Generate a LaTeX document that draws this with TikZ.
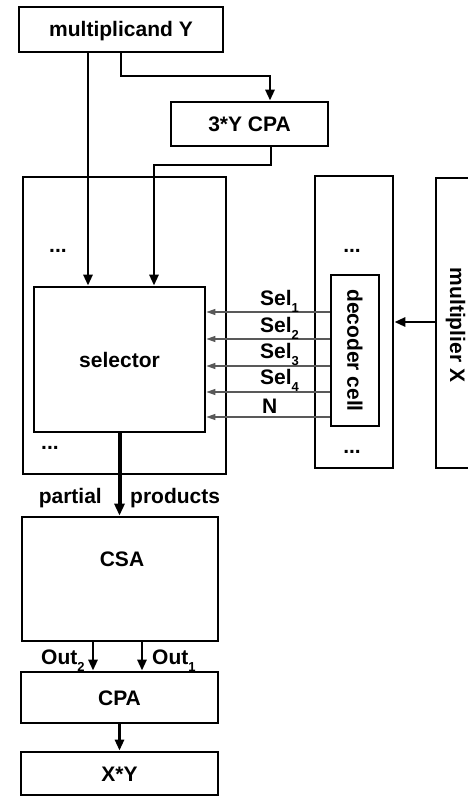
\documentclass[tikz,border=0pt]{standalone}
\usepackage{fontspec}
\setmainfont{Liberation Sans}
\usepackage{graphicx}
\usetikzlibrary{arrows.meta,calc}
\newcommand{\mysub}[1]{\raisebox{-7pt}{\fontsize{13}{13}\selectfont #1}}
\tikzset{
  boxbase/.style={draw,line width=2.8pt,inner sep=0pt,font=\bfseries\fontsize{21}{24}\selectfont},
  box/.style={boxbase,text height=15pt,text depth=0pt},
  lbl/.style={font=\bfseries\fontsize{21}{24}\selectfont,inner sep=0pt,anchor=base west},
  arr/.style={line width=2.8pt,-{Triangle[length=11pt,width=9pt]}},
  thinarr/.style={draw=black!65,line width=1.3pt,-{Triangle[length=9pt,width=6pt]}},
}
\begin{document}
\begin{tikzpicture}[x=1pt,y=-1pt]
\useasboundingbox[fill=white] (0,0) rectangle (467,797);

% boxes
\node[box,minimum width=204pt,minimum height=45pt] (multY) at (121,29.5) {multiplicand Y};
\node[box,minimum width=157pt,minimum height=44pt] (cpa3) at (249.5,124) {3*Y CPA};
\node[box,minimum width=203pt,minimum height=297pt] (selouter) at (124.5,325.5) {};
\node[box,minimum width=171pt,minimum height=145pt] (selector) at (119.5,359.5) {selector};
\node[box,minimum width=78pt,minimum height=292pt] (decouter) at (354,322) {};
\node[boxbase,minimum width=48pt,minimum height=151pt] (deccell) at (355,350.5) {\rotatebox{-90}{decoder cell}};
\node[font=\bfseries\fontsize{21}{24}\selectfont,inner sep=0pt] (multX) at (455.5,325) {\rotatebox{-90}{multiplier X}};
\draw[line width=2.8pt] (475,178) -- (436,178) -- (436,468) -- (475,468);
\node[box,minimum width=196pt,minimum height=124pt] (csa) at (120,579) {};
\node[lbl,anchor=base] (csat) at (122,566) {CSA};
\node[box,minimum width=197pt,minimum height=51pt] (cpa) at (119.5,697.5) {CPA};
\node[box,minimum width=197pt,minimum height=43pt] (xy) at (119.5,773.5) {X*Y};

% dots
\node[lbl,anchor=base] (d1) at (58,252) {...};
\node[lbl,anchor=base] (d2) at (50,449) {...};
\node[lbl,anchor=base] (d3) at (352,252) {...};
\node[lbl,anchor=base] (d4) at (352,453) {...};

% connectors top
\coordinate (a1) at (88,0);
\draw[arr] (multY.south -| a1) -- (selector.north -| a1);
\coordinate (b1) at (270,76);
\draw[arr] (multY.south) |- (b1) -- (cpa3.north -| b1);
\coordinate (c1) at (271,165);
\coordinate (c2) at (154,165);
\draw[arr] (cpa3.south -| c1) -- (c1) -- (c2) -- (selector.north -| c2);

% select lines
\foreach \i/\y in {1/312,2/339,3/366,4/392,5/417}{
  \coordinate (s\i) at (0,\y);
  \draw[thinarr] (deccell.west |- s\i) -- (selector.east |- s\i);
}
\node[lbl] (sel1) at (260,305) {Sel\mysub{1}};
\node[lbl] (sel2) at (260,332) {Sel\mysub{2}};
\node[lbl] (sel3) at (260,358) {Sel\mysub{3}};
\node[lbl] (sel4) at (260,384) {Sel\mysub{4}};
\node[lbl] (nl) at (262,413) {N};

% multiplier arrow
\coordinate (mx) at (436,322);
\draw[arr] (mx) -- (decouter.east |- mx);

% partial products
\draw[line width=4pt,-{Triangle[length=12pt,width=10pt]}] (selector.south) -- (csa.north -| selector.south);
\node[lbl,anchor=base east] (pl) at (102,503) {partial};
\node[lbl] (pr) at (130,503) {products};

% CSA outputs
\coordinate (o2) at (93,0);
\coordinate (o1) at (142,0);
\draw[arr] (csa.south -| o2) -- (cpa.north -| o2);
\draw[arr] (csa.south -| o1) -- (cpa.north -| o1);
\node[lbl] (out2) at (41,664) {Out\mysub{2}};
\node[lbl] (out1) at (152,664) {Out\mysub{1}};

\draw[arr] (cpa.south) -- (xy.north);
\end{tikzpicture}
\end{document}
